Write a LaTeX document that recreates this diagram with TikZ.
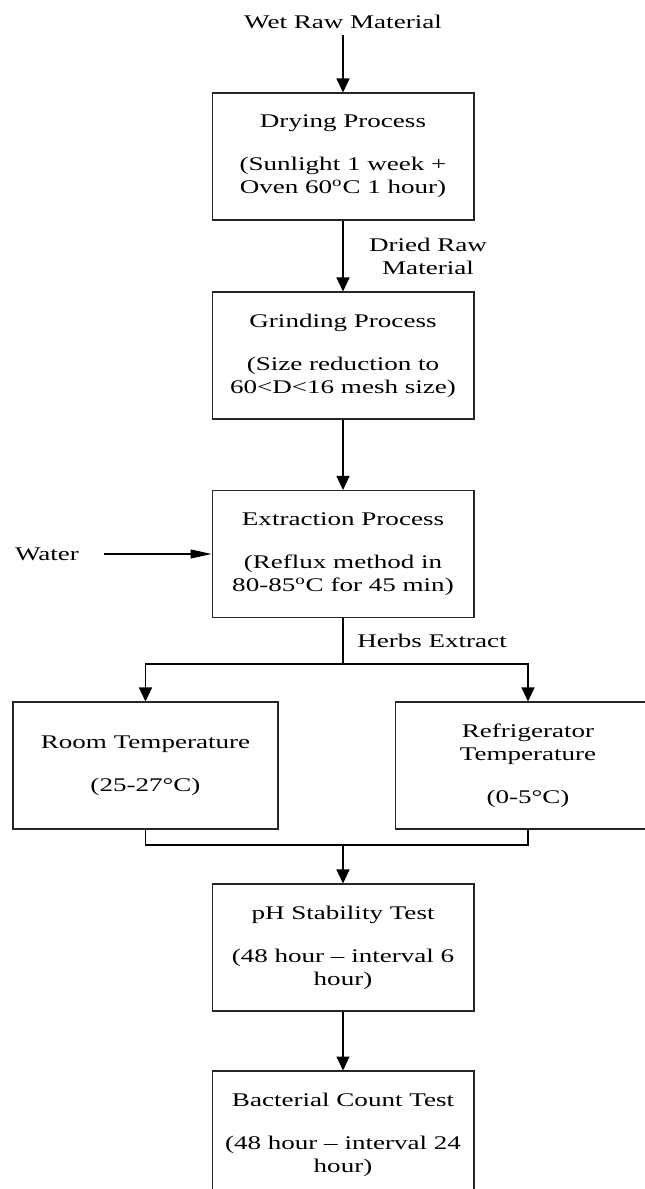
\documentclass[tikz,border=0pt]{standalone}
\usepackage{fontspec}
\setmainfont{Liberation Serif}[FakeStretch=1.4]
\usetikzlibrary{arrows.meta}

\tikzset{
  box/.style={draw=black!85, line width=0.6pt, minimum width=5.24cm, minimum height=2.54cm, align=center, inner sep=0pt},
  sidebox/.style={box, minimum width=5.3cm},
  lbl/.style={align=center},
  flow/.style={line width=0.6pt, -{Triangle[length=2.8mm,width=2.6mm]}},
  feed/.style={line width=0.6pt, -{Triangle[length=4.2mm,width=1.8mm]}},
  link/.style={line width=0.6pt},
}

\begin{document}
\begin{tikzpicture}[x=0.02cm, y=-0.02cm, font=\fontsize{11}{13}\selectfont]

% frame for size
\useasboundingbox (0,0) rectangle (645,1189);

% wet raw material
\node[lbl] (wet) at (343,22) {Wet Raw Material};

% drying
\node[box] (dry) at (343,156.5) {Drying Process\\[11.5pt](Sunlight 1 week +\\Oven 60\textsuperscript{o}C 1 hour)};
\draw[flow] (wet) -- (dry);

% grinding
\node[box] (grind) at (343,355.5) {Grinding Process\\[11.5pt](Size reduction to\\60<D<16 mesh size)};
\node[lbl] (dried) at (428,256) {Dried Raw\\Material};
\draw[flow] (dry) -- (grind);

% extraction
\node[box] (ext) at (343,554) {Extraction Process\\[11.5pt](Reflux method in\\80-85\textsuperscript{o}C for 45 min)};
\draw[flow] (grind) -- (ext);

% water in
\node[lbl] (water) at (47,554) {Water};
\draw[feed, shorten <=0.37cm] (water.east) -- (ext.west);

% split to storage
\node[lbl] (herbs) at (432,641) {Herbs Extract};
\coordinate (split) at (343,664);
\node[sidebox] (room) at (145.5,765.5) {Room Temperature\\[11.5pt](25-27°C)};
\node[sidebox] (fridge) at (528,765.5) {Refrigerator\\Temperature\\[11.5pt](0-5°C)};
\draw[link] (ext) -- (split);
\draw[flow] (split) -| (room.north);
\draw[flow] (split) -| (fridge.north);

% merge to tests
\coordinate (merge) at (343,845);
\draw[link] (room.south) |- (merge) -| (fridge.south);

% ph test
\node[box] (ph) at (343,947.5) {pH Stability Test\\[11.5pt](48 hour – interval 6\\hour)};
\draw[flow] (merge) -- (ph);

% bacteria test
\node[box] (bact) at (343,1134.5) {Bacterial Count Test\\[11.5pt](48 hour – interval 24\\hour)};
\draw[flow] (ph) -- (bact);

\end{tikzpicture}
\end{document}
